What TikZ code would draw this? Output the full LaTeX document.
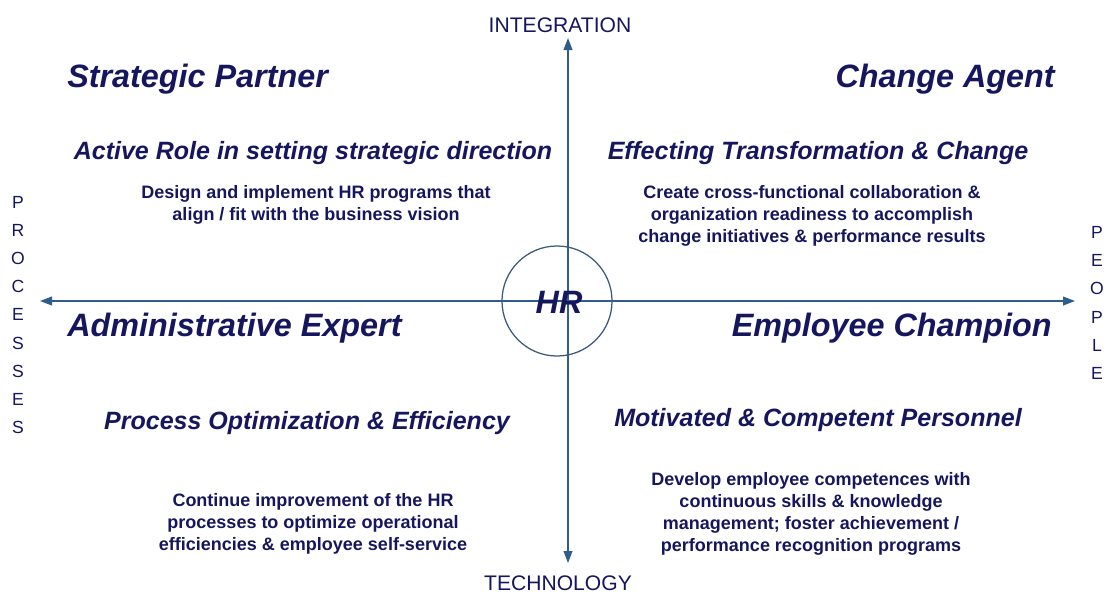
\documentclass[tikz,border=0pt]{standalone}
\usepackage{fontspec}
\setmainfont{Liberation Sans}
\usetikzlibrary{arrows.meta,positioning}
\definecolor{RoleNavy}{HTML}{16165E}
\definecolor{AxisBlue}{HTML}{2F5E8C}
\definecolor{RingBlue}{HTML}{3B5B7C}

\begin{document}
\begin{tikzpicture}[x=0.025cm,y=-0.025cm,>={Triangle[length=3mm,width=2.2mm]},
  roletitle/.style={text=RoleNavy,font=\fontsize{23}{26}\selectfont\bfseries\itshape,inner sep=0pt},
  rolefocus/.style={text=RoleNavy,font=\fontsize{17.8}{20}\selectfont\bfseries\itshape,inner sep=0pt},
  roletext/.style={text=RoleNavy,font=\fontsize{12.8}{15.6}\selectfont\bfseries,align=center,inner sep=0pt},
  axislabel/.style={text=RoleNavy,font=\fontsize{15}{18}\selectfont,inner sep=0pt},
  sideword/.style={text=RoleNavy,font=\fontsize{12.5}{20}\selectfont,align=center,inner sep=0pt}]
  \useasboundingbox (0,0) rectangle (1108,595);
  % axes and centre
  \node[axislabel] (integration) at (560,25) {INTEGRATION};
  \node[axislabel] (technology) at (558,583) {TECHNOLOGY};
  \coordinate (west) at (40,301);
  \coordinate (east) at (1075,301);
  \coordinate (north) at (568,38);
  \coordinate (south) at (568,563);
  \coordinate (centre) at (568,301);
  \draw[->,AxisBlue,line width=1pt] (centre) -- (north);
  \draw[->,AxisBlue,line width=1pt] (centre) -- (south);
  \draw[->,AxisBlue,line width=1pt] (centre) -- (west);
  \draw[->,AxisBlue,line width=1pt] (centre) -- (east);
  \node[draw=RingBlue,line width=0.9pt,circle,minimum size=2.75cm,inner sep=0pt] (ring) at (557,301) {};
  \node[roletitle] (hr) at (559,302) {HR};
  \node[sideword] (processes) at (18,315) {P\\R\\O\\C\\E\\S\\S\\E\\S};
  \node[sideword] (people) at (1097,303) {P\\E\\O\\P\\L\\E};
  % strategic partner
  \node[roletitle,anchor=west] (partner) at (67,79) {Strategic Partner};
  \node[rolefocus] (active) at (313,153) {Active Role in setting strategic direction};
  \node[roletext] (design) at (316,205) {Design and implement HR programs that\\align / fit with the business vision};
  % change agent
  \node[roletitle,anchor=east] (agent) at (1055,79) {Change Agent};
  \node[rolefocus] (effecting) at (818,153) {Effecting Transformation \& Change};
  \node[roletext] (create) at (812,216) {Create cross-functional collaboration \&\\organization readiness to accomplish\\change initiatives \& performance results};
  % administrative expert
  \node[roletitle,anchor=west] (admin) at (67,328) {Administrative Expert};
  \node[rolefocus] (process) at (307,423) {Process Optimization \& Efficiency};
  \node[roletext] (continue) at (313,524) {Continue improvement of the HR\\processes to optimize operational\\efficiencies \& employee self-service};
  % employee champion
  \node[roletitle,anchor=east] (champion) at (1052,328) {Employee Champion};
  \node[rolefocus] (motivated) at (818,420) {Motivated \& Competent Personnel};
  \node[roletext] (develop) at (811,514) {Develop employee competences with\\continuous skills \& knowledge\\management; foster achievement /\\performance recognition programs};
\end{tikzpicture}
\end{document}
